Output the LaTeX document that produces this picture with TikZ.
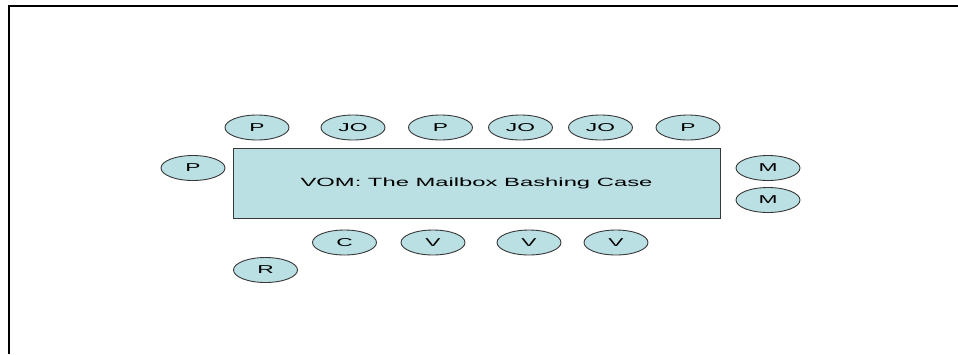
\documentclass[tikz,border=0pt]{standalone}
\usepackage{fontspec}
\usetikzlibrary{shapes.geometric}
% wide sans face, as on the slide
\newfontfamily\widesans[FakeStretch=2.0]{Liberation Sans}

\begin{document}
\begin{tikzpicture}[x=1pt,y=-1pt,
    seat/.style={ellipse,draw=tablegray,line width=0.9pt,fill=tableblue,
      minimum width=64pt,minimum height=25pt,inner sep=0pt,
      font=\widesans\fontsize{11.4}{12}\selectfont},
    table/.style={rectangle,draw=tablegray,line width=0.9pt,fill=tableblue,
      minimum width=487pt,minimum height=70pt,inner sep=0pt,
      font=\widesans\fontsize{11.9}{14}\selectfont}]

\definecolor{tableblue}{RGB}{186,224,228}
\definecolor{tablegray}{RGB}{56,56,56}

    \useasboundingbox (0,0) rectangle (958,354);

    %Rahmen
    \draw [line width=2pt] (9,354) -- (9,6.3) -- (958,6.3);

    %Tisch
    \node [table] (case) at (476.5,183) {VOM: The Mailbox Bashing Case};

    %Oben
    \node [seat] (top1) at (257,127.5) {P};
    \node [seat] (top2) at (353,127.5) {JO};
    \node [seat] (top3) at (440.5,127.5) {P};
    \node [seat] (top4) at (520.5,127.5) {JO};
    \node [seat] (top5) at (600.5,127.5) {JO};
    \node [seat] (top6) at (688,127.5) {P};

    %Links und rechts
    \node [seat] (left) at (193,168) {P};
    \node [seat] (right1) at (768,168) {M};
    \node [seat] (right2) at (768,200) {M};

    %Unten
    \node [seat] (bot1) at (344.5,242.5) {C};
    \node [seat] (bot2) at (433,242.5) {V};
    \node [seat] (bot3) at (529,242.5) {V};
    \node [seat] (bot4) at (616,242.5) {V};
    \node [seat] (rec) at (265.5,270) {R};

\end{tikzpicture}
\end{document}
